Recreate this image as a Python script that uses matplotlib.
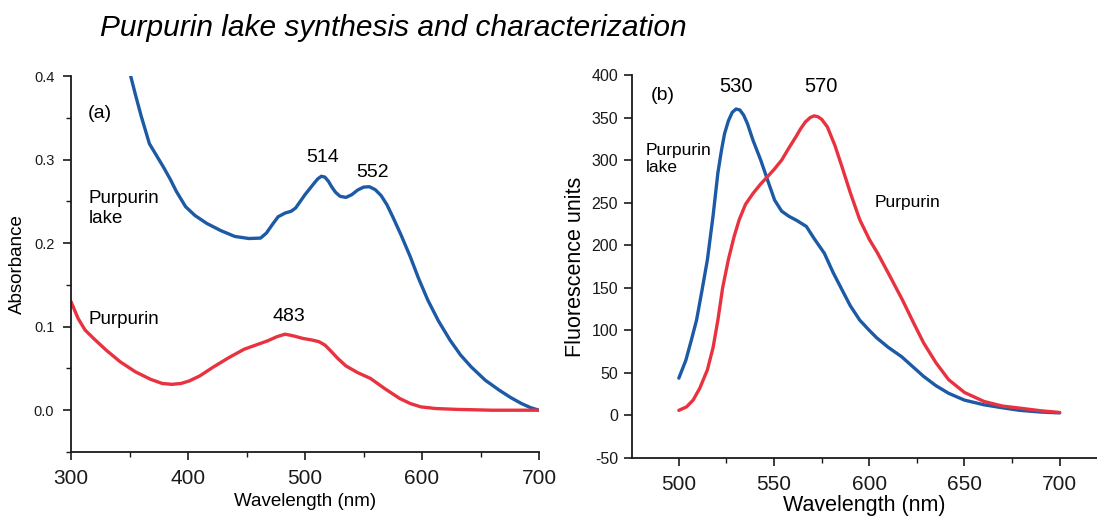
import matplotlib
matplotlib.use('Agg')
import matplotlib.pyplot as plt
from matplotlib.ticker import MultipleLocator, FuncFormatter

plt.rcParams['font.family'] = ['Liberation Sans', 'DejaVu Sans']

# (a) absorbance spectra
abs_lake_wl = [351, 355, 360, 367, 373, 379, 385, 390, 398, 406, 416, 428, 440,
               452, 462, 467, 472, 477, 483, 488, 492, 496, 500, 504, 508, 511,
               514, 517, 520, 523, 526, 530, 535, 540, 545, 550, 555, 560, 565,
               570, 575, 582, 590, 597, 605, 614, 624, 633, 642, 654, 666, 676,
               685, 693, 700]
abs_lake = [0.400, 0.378, 0.352, 0.319, 0.305, 0.291, 0.276, 0.262, 0.2435,
            0.233, 0.2236, 0.215, 0.208, 0.2055, 0.206, 0.212, 0.222, 0.2315,
            0.236, 0.238, 0.242, 0.250, 0.258, 0.265, 0.272, 0.277, 0.280,
            0.279, 0.274, 0.267, 0.261, 0.256, 0.2547, 0.258, 0.2635, 0.267,
            0.2675, 0.264, 0.257, 0.246, 0.2315, 0.210, 0.1836, 0.158, 0.1317,
            0.107, 0.0838, 0.066, 0.0519, 0.036, 0.024, 0.015, 0.008, 0.003,
            0.0]

abs_purp_wl = [300, 306, 312, 320, 330, 342, 355, 368, 378, 386, 394, 401, 410,
               422, 435, 448, 458, 468, 476, 483, 490, 498, 506, 512, 517, 522,
               528, 535, 545, 556, 568, 581, 590, 599, 612, 630, 660, 700]
abs_purp = [0.130, 0.110, 0.096, 0.085, 0.072, 0.058, 0.046, 0.037, 0.032,
            0.031, 0.032, 0.035, 0.041, 0.052, 0.063, 0.073, 0.078, 0.083,
            0.088, 0.091, 0.089, 0.086, 0.084, 0.082, 0.078, 0.071, 0.062,
            0.053, 0.045, 0.038, 0.026, 0.014, 0.008, 0.004, 0.002, 0.001,
            0.0, 0.0]

# (b) fluorescence spectra
fl_lake_wl = [500, 503.7, 506.5, 509.3, 512, 515, 518, 520.5, 522.5, 524, 526,
              528, 530, 532, 534, 536, 539, 543, 547, 550.3, 554, 557.8, 562,
              567, 571, 576.4, 581, 585.7, 590, 595, 600, 604, 610, 617, 623,
              628.6, 635, 641.7, 650, 660.3, 670, 679, 690, 700]
fl_lake = [43.8, 65, 88, 112, 145, 183, 235, 285, 313, 331, 346, 356, 360, 359,
           353, 343, 323, 300, 274, 253, 240, 234, 229, 222, 208, 190.6, 168,
           147.6, 129, 112, 100, 91, 80, 69, 57, 45.8, 35, 26, 18, 12.5, 9, 6,
           4, 3]

fl_purp_wl = [500, 504, 507.5, 511, 515, 518, 520.5, 523, 526, 529, 531.7, 535,
              539, 543, 546.6, 550, 554, 558, 561.5, 564, 566.5, 569, 571, 573,
              575, 578, 582, 585.7, 590, 595, 600, 604.4, 611, 617.4, 623,
              628.6, 635, 641.7, 650, 660.3, 670, 679, 690, 700]
fl_purp = [6, 10, 18, 32, 53.6, 80, 112, 150, 183, 210, 230, 248, 261, 272,
           280.6, 289, 300, 315, 327.5, 337, 345, 350, 352, 351, 348, 339, 317,
           292, 262, 230, 207, 190.6, 163, 135.8, 110, 85, 62, 42, 27, 16.4,
           11, 8.6, 5.5, 3.5]

BLUE = '#1c5aa6'
RED = '#e8323f'
INK = '#1a1a1a'

W, H = 1097, 519
fig = plt.figure(figsize=(W / 100, H / 100), dpi=100)
# axes boxes in pixels: left, top, right, bottom
ax1 = fig.add_axes([71 / W, (H - 452) / H, (539 - 71) / W, (452 - 76) / H])
ax2 = fig.add_axes([632 / W, (H - 458) / H, (W - 632) / W, (458 - 75) / H])

for ax in (ax1, ax2):
    for side in ('top', 'right'):
        ax.spines[side].set_visible(False)
    for side in ('left', 'bottom'):
        ax.spines[side].set_linewidth(1.3)
        ax.spines[side].set_color(INK)
    ax.tick_params(which='major', direction='out', length=6, width=1.2, colors=INK)
    ax.tick_params(which='minor', direction='out', length=3.5, width=1.0, colors=INK)

lw = 2.4
ax1.plot(abs_lake_wl, abs_lake, color=BLUE, lw=lw, solid_joinstyle='round',
         solid_capstyle='round')
ax1.plot(abs_purp_wl, abs_purp, color=RED, lw=lw, solid_joinstyle='round',
         solid_capstyle='round')
ax1.set_xlim(300, 700)
ax1.set_ylim(-0.05, 0.4)
ax1.xaxis.set_major_locator(MultipleLocator(100))
ax1.xaxis.set_minor_locator(MultipleLocator(50))
ax1.yaxis.set_minor_locator(MultipleLocator(0.05))
ax1.set_yticks([0.0, 0.1, 0.2, 0.3, 0.4])
ax1.set_yticklabels(['0.0', '0.1', '0.2', '0.3', '0.4'])
ax1.tick_params(axis='y', labelsize=10.5, pad=6)
ax1.tick_params(axis='x', labelsize=15, pad=6)
ax1.set_xlabel('Wavelength (nm)', fontsize=13.5, labelpad=4)
ax1.set_ylabel('Absorbance', fontsize=13.5, labelpad=6)

ax1.text(314.7, 0.355, '(a)', fontsize=14, va='center', ha='left')
ax1.text(515, 0.303, '514', fontsize=14, va='center', ha='center')
ax1.text(558, 0.285, '552', fontsize=14, va='center', ha='center')
ax1.text(486, 0.112, '483', fontsize=14, va='center', ha='center')
ax1.text(315, 0.241, 'Purpurin\nlake', fontsize=13.5, va='center', ha='left',
         linespacing=1.25)
ax1.text(315, 0.1086, 'Purpurin', fontsize=13.5, va='center', ha='left')

ax2.plot(fl_lake_wl, fl_lake, color=BLUE, lw=lw, solid_joinstyle='round',
         solid_capstyle='round')
ax2.plot(fl_purp_wl, fl_purp, color=RED, lw=lw, solid_joinstyle='round',
         solid_capstyle='round')
ax2.set_xlim(475.4, 719.6)
ax2.set_ylim(-50, 400)
ax2.xaxis.set_minor_locator(MultipleLocator(25))
ax2.yaxis.set_major_locator(MultipleLocator(50))
ax2.yaxis.set_major_formatter(FuncFormatter(lambda v, pos: '%d' % v))
ax2.set_xticks([500, 550, 600, 650, 700])
ax2.tick_params(axis='y', labelsize=11.5, pad=4)
ax2.tick_params(axis='x', labelsize=15, pad=6)
ax2.set_xlabel('Wavelength (nm)', fontsize=15.5, labelpad=1)
ax2.set_ylabel('Fluorescence units', fontsize=15.5, labelpad=4)

ax2.text(485, 376.5, '(b)', fontsize=14, va='center', ha='left')
ax2.text(530, 386, '530', fontsize=14.5, va='center', ha='center')
ax2.text(574.6, 386, '570', fontsize=14.5, va='center', ha='center')
ax2.text(482.7, 301, 'Purpurin\nlake', fontsize=12.5, va='center', ha='left',
         linespacing=1.15)
ax2.text(603, 250, 'Purpurin', fontsize=12.5, va='center', ha='left')

fig.text(100 / W, 1 - 28 / H, 'Purpurin lake synthesis and characterization',
         fontsize=21.5, style='italic', va='center', ha='left')

fig.savefig('out.png', dpi=100)
